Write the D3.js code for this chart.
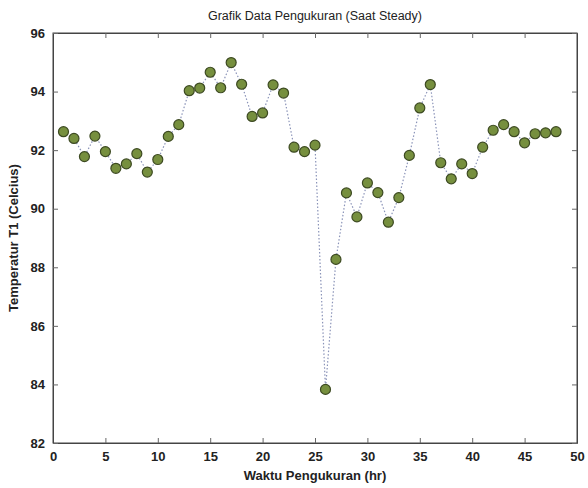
<!DOCTYPE html>
<html>
<head>
<meta charset="utf-8">
<script src="https://cdn.jsdelivr.net/npm/d3@7"></script>
<style>
	body { margin: 0; background: #fff; }
	text { font-family: "Liberation Sans", Arial, sans-serif; fill: #222; }
</style>
</head>
<body>
<div id="chart"></div>
<script>
// Waktu pengukuran (jam) dan temperatur T1 saat steady
var hours = [1, 2, 3, 4, 5, 6, 7, 8, 9, 10, 11, 12, 13, 14, 15, 16, 17, 18, 19, 20, 21, 22, 23, 24,
	25, 26, 27, 28, 29, 30, 31, 32, 33, 34, 35, 36, 37, 38, 39, 40, 41, 42, 43, 44, 45, 46, 47, 48];
var temps = [92.63, 92.4, 91.78, 92.48, 91.95, 91.38, 91.53, 91.88, 91.25, 91.68, 92.47, 92.87,
	94.03, 94.12, 94.66, 94.13, 94.99, 94.25, 93.15, 93.27, 94.23, 93.95, 92.1, 91.95,
	92.17, 83.83, 88.27, 90.54, 89.72, 90.88, 90.55, 89.54, 90.38, 91.82, 93.44, 94.24,
	91.57, 91.02, 91.53, 91.2, 92.1, 92.68, 92.87, 92.63, 92.25, 92.56, 92.59, 92.63];
var xTicks = [0, 5, 10, 15, 20, 25, 30, 35, 40, 45, 50];
var yTicks = [82, 84, 86, 88, 90, 92, 94, 96];

var W = 588, H = 488;
var margin = { top: 33, right: 11, bottom: 45, left: 53 };
var width = W - margin.left - margin.right;
var height = H - margin.top - margin.bottom;

var svg = d3.select("#chart").append("svg")
	.attr("width", W)
	.attr("height", H);

var g = svg.append("g")
	.attr("transform", "translate(" + margin.left + "," + margin.top + ")");

var x = d3.scaleLinear().domain([0, 50]).range([0, width]);
var y = d3.scaleLinear().domain([82, 96]).range([height, 0]);

// frame
g.append("rect")
	.attr("width", width).attr("height", height)
	.attr("fill", "none").attr("stroke", "#444").attr("stroke-width", 1);

// axes, ticks pointing inward (matlab style)
var xAxis = g.append("g").attr("transform", "translate(0," + height + ")")
	.call(d3.axisBottom(x).tickValues(xTicks).tickSizeInner(-5).tickSizeOuter(0).tickPadding(9));
var xTop = g.append("g")
	.call(d3.axisTop(x).tickValues(xTicks).tickSizeInner(-5).tickSizeOuter(0).tickFormat(""));
var yAxis = g.append("g")
	.call(d3.axisLeft(y).tickValues(yTicks).tickSizeInner(-5).tickSizeOuter(0).tickPadding(8));
var yRight = g.append("g").attr("transform", "translate(" + width + ",0)")
	.call(d3.axisRight(y).tickValues(yTicks).tickSizeInner(-5).tickSizeOuter(0).tickFormat(""));

[xAxis, xTop, yAxis, yRight].forEach(function (a) {
	a.select(".domain").attr("stroke", "#444");
	a.selectAll(".tick line").attr("stroke", "#666");
	a.selectAll("text").attr("font-size", 13).attr("font-weight", "bold")
		.attr("fill", "#333").attr("font-family", "'Liberation Sans', Arial, sans-serif");
});

// dotted line
var line = d3.line()
	.x(function (d, i) { return x(hours[i]); })
	.y(function (d) { return y(d); });

g.append("path")
	.datum(temps)
	.attr("d", line)
	.attr("fill", "none")
	.attr("stroke", "#8a93b8")
	.attr("stroke-width", 1.2)
	.attr("stroke-dasharray", "1.5,2");

// markers
g.selectAll(".dot")
	.data(temps)
	.enter()
	.append("circle")
	.attr("class", "dot")
	.attr("cx", function (d, i) { return x(hours[i]); })
	.attr("cy", function (d) { return y(d); })
	.attr("r", 5)
	.attr("fill", "#768f3e")
	.attr("stroke", "#3d4a22")
	.attr("stroke-width", 1.2);

// titles
svg.append("text")
	.attr("x", margin.left + width / 2).attr("y", 20)
	.attr("text-anchor", "middle")
	.attr("font-size", 12.5)
	.text("Grafik Data Pengukuran (Saat Steady)");

svg.append("text")
	.attr("x", margin.left + width / 2).attr("y", 480)
	.attr("text-anchor", "middle")
	.attr("font-size", 13)
	.attr("font-weight", "bold")
	.attr("fill", "#333")
	.text("Waktu Pengukuran (hr)");

svg.append("text")
	.attr("transform", "translate(18," + (margin.top + height / 2) + ") rotate(-90)")
	.attr("text-anchor", "middle")
	.attr("font-size", 13)
	.attr("font-weight", "bold")
	.attr("fill", "#333")
	.text("Temperatur T1 (Celcius)");
</script>
</body>
</html>
